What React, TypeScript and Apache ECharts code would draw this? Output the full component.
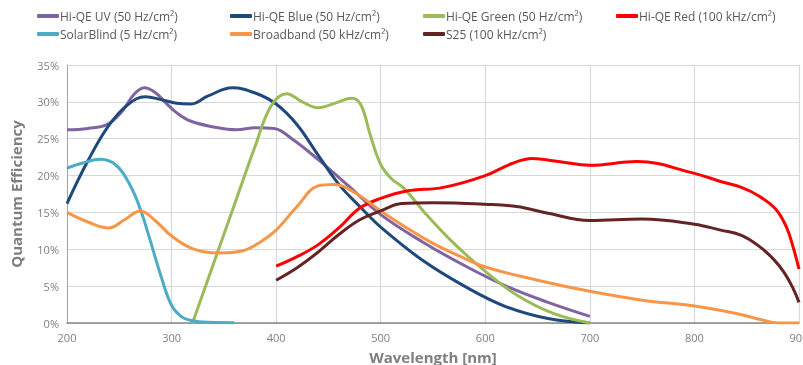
import React, { useEffect, useRef } from "react";
import * as echarts from "echarts";

const seriesNames = [
  "Hi-QE UV (50 Hz/cm²)",
  "Hi-QE Blue (50 Hz/cm²)",
  "Hi-QE Green (50 Hz/cm²)",
  "Hi-QE Red (100 kHz/cm²)",
  "SolarBlind (5 Hz/cm²)",
  "Broadband (50 kHz/cm²)",
  "S25 (100 kHz/cm²)",
];

const seriesColors = ["#8064A2", "#1F497D", "#9BBB59", "#FF0000", "#4BACC6", "#F79646", "#632523"];

const hiQeUV = [[200,26.2],[220,26.4],[238,26.9],[252,28.6],[264,31],[274,31.9],[284,31.3],[295,29.8],[305,28.5],[318,27.4],[340,26.6],[362,26.2],[380,26.5],[398,26.4],[415,25],[440,22.2],[470,18.5],[500,14.7],[540,11],[580,7.8],[620,5],[660,2.8],[700,0.9]];
const hiQeBlue = [[200,16.2],[220,22],[240,26.8],[258,29.6],[275,30.7],[290,30.3],[305,29.8],[318,29.7],[335,30.8],[358,31.9],[380,31.2],[400,29.7],[420,26.9],[440,22.8],[460,18.8],[480,15.8],[500,13],[540,8.5],[580,5],[620,2.2],[660,0.6],[700,0]];
const hiQeGreen = [[320,0],[340,8],[360,16],[380,24],[395,29.4],[410,31.1],[425,30],[440,29.2],[458,29.9],[472,30.5],[481,29.6],[490,25.5],[500,21.5],[510,19.6],[522,18.3],[545,14.5],[570,10.8],[600,7],[630,3.8],[665,1.3],[700,0]];
const hiQeRed = [[400,7.7],[420,9],[440,10.6],[460,12.9],[480,15.6],[500,16.9],[525,17.9],[560,18.4],[600,20],[625,21.6],[645,22.3],[670,21.9],[700,21.4],[745,21.9],[800,20.3],[825,19.2],[845,18.4],[862,17.2],[878,15.4],[888,13],[895,10],[900,7.3]];
const solarBlind = [[200,21],[215,21.7],[232,22.2],[247,21.4],[260,18.8],[270,15.5],[280,11],[290,6.3],[300,2.4],[310,0.8],[320,0.3],[335,0.1],[360,0.05]];
const broadband = [[200,15],[220,13.7],[240,12.9],[255,14],[270,15.2],[285,13.8],[300,11.8],[320,10.1],[345,9.5],[368,9.8],[385,11],[400,12.6],[420,15.8],[440,18.6],[455,18.8],[475,17.7],[500,15.2],[525,12.9],[550,10.8],[575,9.1],[600,7.6],[650,5.8],[700,4.3],[750,3.1],[800,2.3],[840,1.3],[865,0.4],[880,0],[900,0]];
const s25 = [[400,5.8],[420,7.5],[440,9.6],[460,12],[480,14],[500,15.2],[520,16.2],[550,16.3],[600,16.1],[630,15.8],[660,14.9],[700,13.9],[750,14.1],[800,13.4],[825,12.6],[845,11.9],[862,10.4],[876,8.6],[886,6.8],[894,4.8],[900,2.8]];

const seriesData = [hiQeUV, hiQeBlue, hiQeGreen, hiQeRed, solarBlind, broadband, s25];

const legendPos = [
  [37, 10], [230, 10], [423, 10], [616, 10],
  [37, 28], [230, 28], [423, 28],
];

export default function App() {
  const ref = useRef<HTMLDivElement>(null);
  useEffect(() => {
    if (!ref.current) return;
    const chart = echarts.init(ref.current, null, { renderer: "svg" });
    const font = "'Open Sans', 'Noto Sans', sans-serif";
    chart.setOption({
      animation: false,
      textStyle: { fontFamily: font },
      legend: seriesNames.map((n, i) => ({
        data: [n],
        left: legendPos[i][0],
        top: legendPos[i][1],
        icon: "roundRect",
        itemWidth: 22,
        itemHeight: 4,
        padding: 0,
        selectedMode: false,
        textStyle: { color: "#595959", fontSize: 12, fontFamily: font, padding: [0, 0, 0, -4] },
      })),
      grid: { left: 67, right: 4, top: 65, bottom: 42, containLabel: false, outerBoundsMode: "none" },
      xAxis: {
        type: "value",
        min: 200,
        max: 900,
        interval: 100,
        name: "Wavelength [nm]",
        nameLocation: "middle",
        nameGap: 26,
        nameTextStyle: { color: "#7F7F7F", fontSize: 15, fontWeight: "bold", fontFamily: font },
        axisLine: { show: true, lineStyle: { color: "#868686", width: 1.5 } },
        axisTick: { show: false },
        axisLabel: { color: "#7F7F7F", fontSize: 11, margin: 9, fontFamily: font },
        splitLine: { show: true, lineStyle: { color: "#D9D9D9", width: 1.2 } },
      },
      yAxis: {
        type: "value",
        min: 0,
        max: 35,
        interval: 5,
        name: "Quantum Efficiency",
        nameLocation: "middle",
        nameGap: 44,
        nameTextStyle: { color: "#7F7F7F", fontSize: 15, fontWeight: "bold", fontFamily: font },
        axisLine: { show: true, lineStyle: { color: "#A6A6A6", width: 1 } },
        axisTick: { show: false },
        axisLabel: { color: "#7F7F7F", fontSize: 11, margin: 8, formatter: "{value}%", fontFamily: font },
        splitLine: { show: true, lineStyle: { color: "#D9D9D9", width: 1.2 } },
      },
      series: seriesNames.map((n, i) => ({
        name: n,
        type: "line",
        data: seriesData[i],
        smooth: 0.4,
        showSymbol: false,
        symbol: "none",
        color: seriesColors[i],
        lineStyle: { color: seriesColors[i], width: 3 },
        z: 2 + i,
      })),
    });
    return () => chart.dispose();
  }, []);
  return <div ref={ref} style={{ position: "fixed", left: 0, top: 0, width: 803, height: 365 }} />;
}
